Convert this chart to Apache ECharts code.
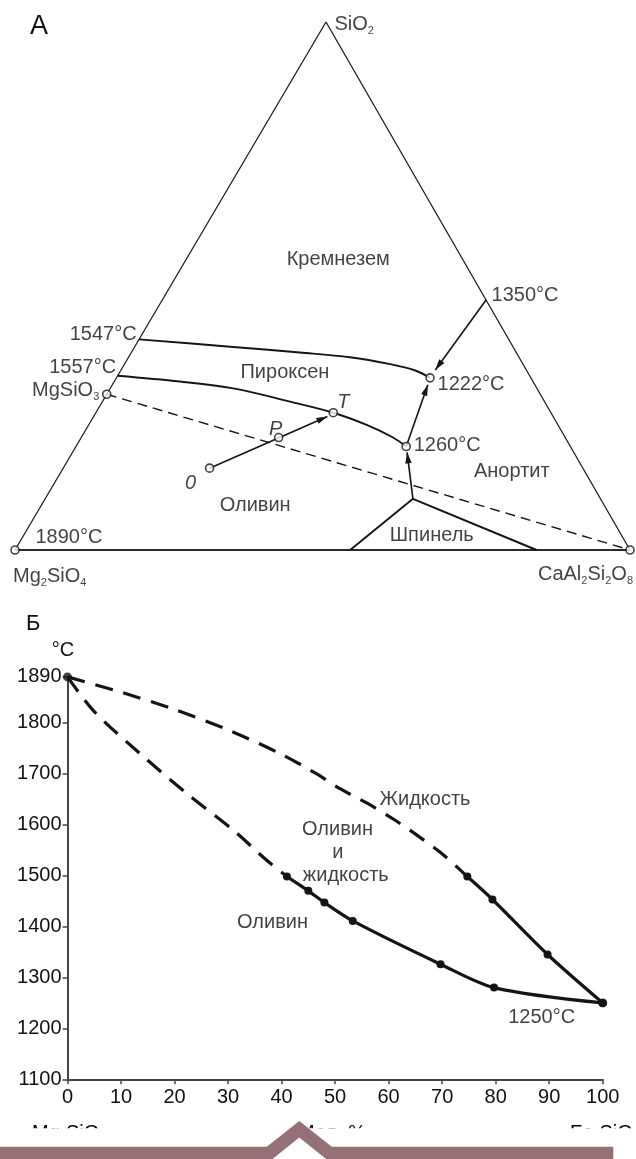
<!DOCTYPE html>
<html lang="ru">
<head>
<meta charset="utf-8">
<title>Системы форстерит – анортит – кремнезем и форстерит – фаялит</title>
<script src="https://cdn.jsdelivr.net/npm/echarts@6.0.0/dist/echarts.min.js"></script>
<style>
html,body{margin:0;padding:0;background:#fff;}
#chart{width:636px;height:1159px;}
</style>
</head>
<body>
<div id="chart"></div>
<script>
// ---------- А: Mg2SiO4 – CaAl2Si2O8 – SiO2 liquidus diagram ----------
// compositions are [CaAl2Si2O8 %, SiO2 %]; Mg2SiO4 makes up the rest
const silicaPyroxeneBoundary = [[0,39.9],[15.5,38.5],[27.4,37.4],[36.0,36.5],[43.2,35.2],[47.9,34.0],[51.0,32.6]];
const pyroxeneOlivineBoundary = [[0,33.0],[10.7,31.9],[20.0,30.6],[30.5,28.1],[38.6,26.0],[45.2,23.7],[50.5,21.4],[53.7,19.6]];
const spinelBoundary = [[54.5,0],[59.8,9.7],[84.8,0]];
const enstatiteAnorthiteJoin = [[0,29.5],[100,0]];
const arrowStarts = [[23.8,15.5],[52.65,47.35],[53.7,19.6],[59.8,9.7]];
const arrowEnds = [[38.0,25.3],[51.1,34.1],[51.3,31.3],[54.4,18.5]];
const openPoints = [[0,0],[100,0],[0,29.5],[23.8,15.5],[32.1,21.3],[38.6,26.0],[51.0,32.6],[53.7,19.6]];
const fieldNames = ['Кремнезем','Пироксен','Оливин','Анортит','Шпинель'];
const fieldCenters = [[24.7,55.1],[26.9,33.6],[34.8,8.4],[73.3,14.8],[66.4,2.7]];
const temperatures = [1547,1557,1890,1350,1222,1260];
const temperaturePoints = [[0,39.9],[0,33.0],[0,0],[52.65,47.35],[51.0,32.6],[53.7,19.6]];
const pathNames = ['0','P','T'];
const pathPoints = [[23.8,15.5],[32.1,21.3],[38.6,26.0]];
const componentNames = ['SiO2','MgSiO3','Mg2SiO4','CaAl2Si2O8'];
const componentPoints = [[0,100],[0,29.5],[0,0],[100,0]];

// ---------- Б: Mg2SiO4 – Fe2SiO4 binary loop ----------
const temperatureTicks = [1100,1200,1300,1400,1500,1600,1700,1800,1890];
const liquidusDashed = [[0,1890],[10,1860],[20,1826],[30,1786],[40,1738],[46.5,1700],[51,1670],[56,1642],[61,1610],[66,1574],[70.3,1540],[74.7,1498]];
const liquidusSolid = [[74.7,1498],[79.4,1453],[89.7,1345],[100,1250]];
const solidusDashed = [[0,1890],[5,1822],[13.5,1740],[22.3,1661],[31,1589],[37,1532],[41,1498]];
const solidusSolid = [[41,1498],[45,1470],[48,1447],[53.3,1411],[69.7,1326],[79.7,1280],[100,1250]];
const endMemberMelting = [[0,1890],[100,1250]];
const phaseNames = ['Жидкость','Оливин','и','жидкость','Оливин'];
const phaseCenters = [[66.8,1650],[50.45,1590],[50.5,1546],[52,1501],[38.3,1408]];
const axisEndNames = ['Mg2SiO4','Мол. %','Fe2SiO4'];

// ---------- styling ----------
const FONT = '"Liberation Sans", Arial, Helvetica, sans-serif';
const TEXT = '#111111';
const INK = '#141414';
const APEX = 0.5057;                       // SiO2 apex position along the base
const tern = p => [p[0] + p[1] * APEX, p[1]];
const ARROW = 'path://M-12,-12L-12,-12M12,12L12,12M0,0L3.2,11L-3.2,11Z';

const RICH = {
  a: {fontSize: 20, lineHeight: 24, color: TEXT, fontFamily: FONT},
  s: {fontSize: 11, lineHeight: 12, verticalAlign: 'bottom', color: TEXT, fontFamily: FONT}
};
const formula = str => str.match(/\d+|\D+/g)
  .map(t => /\d/.test(t) ? '{s|' + t + '}' : '{a|' + t + '}').join('');

const temperatureLabelLayout = [
  {position: 'left', distance: 2, offset: [0, -5]},
  {position: 'left', distance: 1, offset: [0, -8.5]},
  {position: 'right', distance: 20, offset: [0, -12.5]},
  {position: 'right', distance: 5, offset: [0, -5]},
  {position: 'right', distance: 7, offset: [0, 6.5]},
  {position: 'right', distance: 7, offset: [0, -1]}
];
const pathLabelOffsets = [[-19, 15], [-3, -8], [10, -10]];
const componentLabelLayout = [
  {position: 'right', distance: 8, offset: [0, 2]},
  {position: 'left', distance: 7, offset: [0, -3.5]},
  {position: 'inside', align: 'left', offset: [-2, 26]},
  {position: 'inside', align: 'right', offset: [3, 24]}
];
const axisEndX = [32, 298, 570];

const labelBase = {show: true, color: TEXT, fontSize: 20, fontFamily: FONT};
const hidden = {symbol: 'circle', symbolSize: 1, itemStyle: {color: 'rgba(0,0,0,0)'}, silent: true, clip: false, z: 20};

const ternLine = (data, extra) => Object.assign({
  type: 'line', xAxisIndex: 0, yAxisIndex: 0, data: data.map(tern),
  symbol: 'none', silent: true, clip: false, animation: false,
  lineStyle: {color: INK, width: 1.9}
}, extra || {});

const ternLabels = [].concat(
  fieldNames.map((n, i) => ({value: tern(fieldCenters[i]),
    label: Object.assign({}, labelBase, {position: 'inside', formatter: n})})),
  temperatures.map((t, i) => ({value: tern(temperaturePoints[i]),
    label: Object.assign({}, labelBase, temperatureLabelLayout[i], {formatter: t + '°C'})})),
  pathNames.map((n, i) => ({value: tern(pathPoints[i]),
    label: Object.assign({}, labelBase, {position: 'inside', offset: pathLabelOffsets[i], fontStyle: 'italic', formatter: n})})),
  componentNames.map((n, i) => ({value: tern(componentPoints[i]),
    label: Object.assign({}, labelBase, componentLabelLayout[i], {formatter: formula(n), rich: RICH})}))
);

const phaseLabels = phaseNames.map((n, i) => ({value: phaseCenters[i],
  label: Object.assign({}, labelBase, {position: 'inside', formatter: n})}));
const meltingLabel = [{value: endMemberMelting[1],
  label: Object.assign({}, labelBase, {position: 'inside', offset: [-61, 15],
    formatter: p => p.value[1] + '°C'})}];

const axisColor = '#454545';

const option = {
  animation: false,
  backgroundColor: '#fff',
  textStyle: {fontFamily: FONT},
  title: [
    {text: 'А', left: 30, top: 13, padding: 0,
     textStyle: {fontSize: 27, fontWeight: 'normal', color: TEXT, fontFamily: FONT}},
    {text: 'Б', left: 26, top: 613, padding: 0,
     textStyle: {fontSize: 22, fontWeight: 'normal', color: TEXT, fontFamily: FONT}}
  ],
  grid: [
    {left: 15, top: 22, width: 615, height: 528, containLabel: false, outerBoundsMode: 'none'},
    {left: 67.5, top: 676.9, width: 535.2, height: 402.4, containLabel: false, outerBoundsMode: 'none'}
  ],
  xAxis: [
    {gridIndex: 0, type: 'value', min: 0, max: 100, show: false},
    {gridIndex: 1, type: 'value', min: 0, max: 100, interval: 10,
     axisLine: {show: true, onZero: false, lineStyle: {color: axisColor, width: 2}},
     axisTick: {show: true, length: 5, lineStyle: {color: axisColor, width: 1.5}},
     axisLabel: {fontSize: 20, color: TEXT, margin: 8, fontFamily: FONT, formatter: v => String(v)},
     splitLine: {show: false}}
  ],
  yAxis: [
    {gridIndex: 0, type: 'value', min: 0, max: 100, show: false},
    {gridIndex: 1, type: 'value', min: 1100, max: 1890,
     name: '°C', nameLocation: 'end', nameGap: 16,
     nameTextStyle: {fontSize: 20, color: TEXT, fontFamily: FONT, padding: [0, 9, 0, 0]},
     axisLine: {show: true, onZero: false, lineStyle: {color: axisColor, width: 2}},
     axisTick: {show: true, length: 5, customValues: temperatureTicks, lineStyle: {color: axisColor, width: 1.5}},
     axisLabel: {fontSize: 20, color: TEXT, margin: 6, fontFamily: FONT, customValues: temperatureTicks,
                 formatter: v => String(v)},
     splitLine: {show: false}}
  ],
  series: [
    // triangle
    ternLine([[0,0],[0,100],[100,0]], {lineStyle: {color: '#1e1e1e', width: 1.3}}),
    ternLine([[0,0],[100,0]], {lineStyle: {color: '#2a2a2a', width: 2.2}}),
    // field boundaries
    ternLine(silicaPyroxeneBoundary, {smooth: 0.35}),
    ternLine(pyroxeneOlivineBoundary, {smooth: 0.35}),
    ternLine(spinelBoundary),
    ternLine(enstatiteAnorthiteJoin, {lineStyle: {color: INK, width: 1.4, type: [10, 6]}}),
    // crystallization paths
    {type: 'lines', coordinateSystem: 'cartesian2d', xAxisIndex: 0, yAxisIndex: 0,
     silent: true, animation: false, z: 5,
     symbol: ['none', ARROW], symbolSize: 24,
     itemStyle: {color: INK},
     lineStyle: {color: INK, width: 1.6, opacity: 1, curveness: 0},
     data: arrowStarts.map((s, i) => ({coords: [tern(s), tern(arrowEnds[i])]}))},
    // open circles
    {type: 'scatter', xAxisIndex: 0, yAxisIndex: 0, data: openPoints.map(tern),
     symbol: 'circle', symbolSize: 8, silent: true, clip: false, z: 10,
     itemStyle: {color: '#fff', borderColor: INK, borderWidth: 1.6}},
    // labels of diagram А
    Object.assign({type: 'scatter', xAxisIndex: 0, yAxisIndex: 0, data: ternLabels}, hidden),

    // diagram Б
    {type: 'line', xAxisIndex: 1, yAxisIndex: 1, data: liquidusDashed, smooth: 0.3,
     symbol: 'none', silent: true, clip: false, lineStyle: {color: INK, width: 3.2, type: [18, 11]}},
    {type: 'line', xAxisIndex: 1, yAxisIndex: 1, data: solidusDashed, smooth: 0.3,
     symbol: 'none', silent: true, clip: false, lineStyle: {color: INK, width: 3.2, type: [18, 11]}},
    {type: 'line', xAxisIndex: 1, yAxisIndex: 1, data: liquidusSolid, smooth: 0.3,
     symbol: 'circle', symbolSize: 8, showSymbol: true, silent: true, clip: false,
     itemStyle: {color: INK}, lineStyle: {color: INK, width: 3.2}},
    {type: 'line', xAxisIndex: 1, yAxisIndex: 1, data: solidusSolid, smooth: 0.3,
     symbol: 'circle', symbolSize: 8, showSymbol: true, silent: true, clip: false,
     itemStyle: {color: INK}, lineStyle: {color: INK, width: 3.2}},
    {type: 'scatter', xAxisIndex: 1, yAxisIndex: 1, data: endMemberMelting,
     symbol: 'circle', symbolSize: 9, silent: true, clip: false, z: 10, itemStyle: {color: INK}},
    Object.assign({type: 'scatter', xAxisIndex: 1, yAxisIndex: 1, data: phaseLabels.concat(meltingLabel)}, hidden)
  ],
  graphic: [
    ...axisEndNames.map((n, i) => ({type: 'text', x: axisEndX[i], y: 1133, z: 1, silent: true,
      style: /\d/.test(n)
        ? {text: formula(n), rich: RICH, verticalAlign: 'middle', align: 'left'}
        : {text: n, font: '20px ' + FONT, fill: TEXT, verticalAlign: 'middle', align: 'left'}})),
    {type: 'rect', z: 5, silent: true, shape: {x: 0, y: 1128.3, width: 636, height: 19},
     style: {fill: '#fff'}},
    {type: 'polyline', z: 6, silent: true,
     shape: {points: [[0,1153.2],[269.3,1153.2],[299.3,1129.2],[329.3,1153.2],[613.3,1153.2]]},
     style: {stroke: '#957077', lineWidth: 13, lineJoin: 'miter', fill: null}}
  ]
};

const chart = echarts.init(document.getElementById('chart'), null, {renderer: 'canvas', width: 636, height: 1159});
chart.setOption(option);
</script>
</body>
</html>
